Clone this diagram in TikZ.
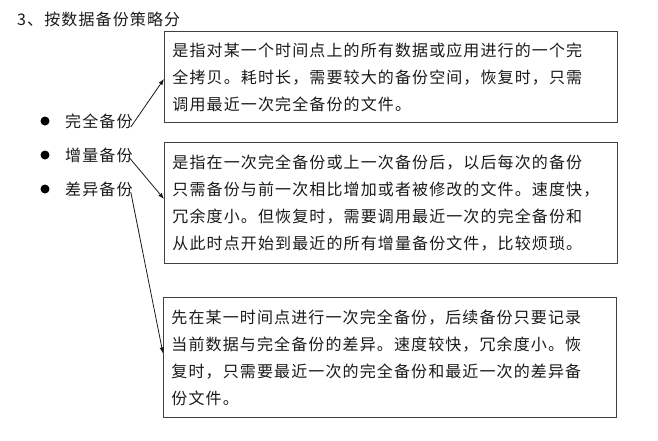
\documentclass[tikz,border=0pt]{standalone}
\usepackage{fontspec}
\usetikzlibrary{arrows.meta}
\newfontfamily\cjk[LetterSpace=7]{Noto Sans CJK SC}
\definecolor{ink}{HTML}{1A1A1A}
\definecolor{frame}{HTML}{404040}
\tikzset{
	txt/.style={font=\cjk\fontsize{16}{27}\selectfont, text=ink, inner sep=0pt},
	note/.style={txt, rectangle, draw=frame, line width=0.9pt, anchor=north west,
		inner xsep=8pt, inner ysep=0pt, text width=437pt, align=left},
	dot/.style={circle, fill=black, inner sep=0pt, minimum size=9pt},
	link/.style={-{Latex[length=6pt,width=4.5pt]}, line width=0.8pt, draw=ink}
}
\begin{document}
\begin{tikzpicture}[x=1pt,y=-1pt]
		\useasboundingbox (0,0) rectangle (658,440);
		\node[txt, anchor=west] (title) at (17,19) {3、按数据备份策略分};

		\node[dot] (d1) at (45,121) {};
		\node[dot] (d2) at (45,155) {};
		\node[dot] (d3) at (45,189) {};
		\node[txt, anchor=west] (full) at (65,121) {完全备份};
		\node[txt, anchor=west] (incr) at (65,155) {增量备份};
		\node[txt, anchor=west] (diff) at (65,189) {差异备份};

		\node[note, minimum height=91pt] (fullnote) at (164,31) {是指对某一个时间点上的所有数据或应用进行的一个完\\全拷贝。耗时长，需要较大的备份空间，恢复时，只需\\调用最近一次完全备份的文件。};
		\node[note, minimum height=121pt] (incrnote) at (164,142) {是指在一次完全备份或上一次备份后，以后每次的备份\\只需备份与前一次相比增加或者被修改的文件。速度快，\\冗余度小。但恢复时，需要调用最近一次的完全备份和\\从此时点开始到最近的所有增量备份文件，比较烦琐。};
		\node[note, minimum height=120pt] (diffnote) at (163,297) {先在某一时间点进行一次完全备份，后续备份只要记录\\当前数据与完全备份的差异。速度较快，冗余度小。恢\\复时，只需要最近一次的完全备份和最近一次的差异备\\份文件。};

		\draw[link] ([shift={(-2,6)}]full.east) -- ([shift={(0,2)}]fullnote.west);
		\draw[link] ([shift={(-4,2)}]incr.east) -- ([shift={(0,-4)}]incrnote.west);
		\draw[link] ([shift={(-2,3)}]diff.east) -- ([shift={(0,-4)}]diffnote.west);
	\end{tikzpicture}
\end{document}
